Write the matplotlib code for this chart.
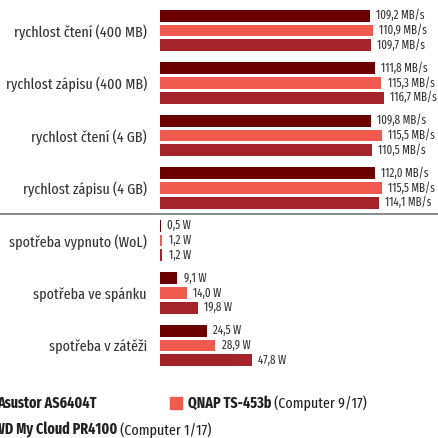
import numpy as np
import matplotlib.pyplot as plt
from matplotlib.patches import Rectangle

plt.rcParams['font.family'] = ['Fira Sans Extra Condensed', 'Fira Sans Condensed',
                               'Roboto Condensed', 'Liberation Sans Narrow', 'DejaVu Sans']

categories = ['rychlost čtení (400 MB)', 'rychlost zápisu (400 MB)',
              'rychlost čtení (4 GB)', 'rychlost zápisu (4 GB)',
              'spotřeba vypnuto (WoL)', 'spotřeba ve spánku', 'spotřeba v zátěži']
units = ['MB/s', 'MB/s', 'MB/s', 'MB/s', 'W', 'W', 'W']

asustor = [109.2, 111.8, 109.8, 112.0, 0.5, 9.1, 24.5]
qnap = [110.9, 115.3, 115.5, 115.5, 1.2, 14.0, 28.9]
wd = [109.7, 116.7, 110.5, 114.1, 1.2, 19.8, 47.8]

series_names = ['Asustor AS6404T', 'QNAP TS-453b', 'WD My Cloud PR4100']
series_notes = ['', ' (Computer 9/17)', ' (Computer 1/17)']
colors = ['#6b0000', '#f05a4f', '#a5232b']

W, H = 438, 438
fig = plt.figure(figsize=(W / 100, H / 100), dpi=100)
ax = fig.add_axes([160 / W, 66.25 / H, 278 / W, 367.5 / H])

y = np.arange(len(categories))
for j, vals in enumerate([asustor, qnap, wd]):
    pos = y + (j - 1) * 0.28
    ax.barh(pos, vals, height=0.223, color=colors[j])
    for p, v, u in zip(pos, vals, units):
        txt = f'{v:.1f}'.replace('.', ',') + ' ' + u
        ax.annotate(txt, (v, p), xytext=(4.5, 0), textcoords='offset points',
                    va='center', ha='left', fontsize=8.6, color='#333333',
                    annotation_clip=False)

ax.set_xlim(0, 278 / 1.92)
ax.set_ylim(6.5, -0.5)
ax.set_yticks(y, categories)
ax.tick_params(axis='y', length=0, pad=9.5, labelsize=11, labelcolor='#333333')
ax.set_xticks([])
for s in ax.spines.values():
    s.set_visible(False)

# separator between speed and power blocks
ax.axhline(3.5, xmin=-160 / 278, xmax=1, color='#808080', lw=1.3, clip_on=False)

# legend drawn by hand (bold name + normal note)
legend_pos = [(-21, 403), (170, 403), (-24, 430)]
for (lx, ly), name, note, c in zip(legend_pos, series_names, series_notes, colors):
    fig.patches.append(Rectangle((lx / W, 1 - (ly + 6) / H), 12 / W, 12 / H,
                                 transform=fig.transFigure, color=c))
    t = fig.text((lx + 18) / W, 1 - ly / H, name, fontsize=11,
                 fontweight='bold', va='center', ha='left', color='#222222')
    if note:
        ax.annotate(note, xy=(1, 0), xycoords=t, va='bottom', ha='left',
                    fontsize=11, color='#222222', annotation_clip=False)

fig.savefig('out.png', dpi=100)
